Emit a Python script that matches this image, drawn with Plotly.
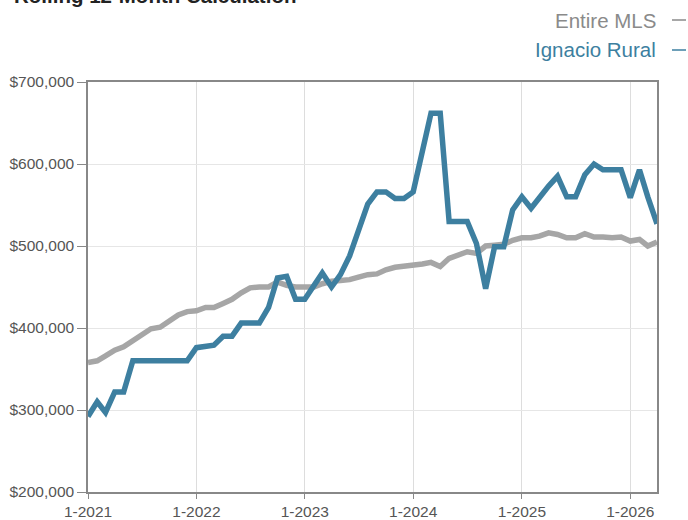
import plotly.graph_objects as go
import pandas as pd

months = pd.date_range("2021-01-01", periods=64, freq="MS")

entire_mls = [358, 360, 366, 373, 377, 384, 392, 399, 401, 409, 416, 420,
              421, 425, 425, 430, 435, 443, 449, 450, 450, 456, 452, 450,
              450, 450, 454, 457, 458, 459, 462, 465, 466, 471, 474, 475,
              477, 478, 480, 475, 485, 489, 493, 491, 500, 501, 502, 507,
              510, 510, 512, 516, 514, 510, 510, 515, 511, 511, 510, 511,
              506, 508, 500, 505]
ignacio_rural = [292, 310, 297, 322, 322, 360, 360, 360, 359, 359, 359, 360,
                 376, 377, 379, 390, 390, 406, 406, 406, 425, 461, 463, 435,
                 435, 452, 467, 450, 465, 488, 519, 551, 566, 566, 558, 558,
                 566, 615, 662, 662, 530, 530, 530, 503, 448, 499, 499, 544,
                 560, 546, 560, 573, 585, 560, 560, 587, 600, 593, 593, 593,
                 559, 593, 560, 527]
entire_mls = [v * 1000 for v in entire_mls]
ignacio_rural = [v * 1000 for v in ignacio_rural]

tick_dates = pd.date_range("2021-01-01", periods=6, freq="12MS")
tick_labels = ["1-2021", "1-2022", "1-2023", "1-2024", "1-2025", "1-2026"]
y_ticks = [200000, 300000, 400000, 500000, 600000, 700000]
y_labels = ["$200,000", "$300,000", "$400,000", "$500,000", "$600,000", "$700,000"]

GRAY = "#a6a6a6"
BLUE = "#3d7fa0"
PW, PH = 569, 410  # plot area size in px

fig = go.Figure()
fig.add_trace(go.Scatter(x=months, y=entire_mls, mode="lines", name="Entire MLS",
                         line=dict(color=GRAY, width=5.5), showlegend=False))
fig.add_trace(go.Scatter(x=months, y=ignacio_rural, mode="lines", name="Ignacio Rural",
                         line=dict(color=BLUE, width=5.5), showlegend=False))

fig.update_layout(
    width=688, height=520,
    margin=dict(l=88, r=31, t=82, b=28, autoexpand=False),
    plot_bgcolor="white", paper_bgcolor="white",
    font=dict(family="Liberation Sans, Arial, sans-serif", color="#555555", size=15),
)
fig.update_xaxes(
    range=[months[0], months[-1]],
    tickvals=list(tick_dates), ticktext=tick_labels,
    showgrid=True, gridcolor="#dddddd", gridwidth=1,
    showline=True, linecolor="#888888", linewidth=1.5, mirror=True,
    ticks="outside", ticklen=5, tickcolor="#888888",
    tickfont=dict(size=15.5, color="#555555"),
    zeroline=False, automargin=False,
)
fig.update_yaxes(
    range=[200000, 700000],
    tickvals=y_ticks, ticktext=y_labels,
    showgrid=True, gridcolor="#e6e6e6", gridwidth=1,
    showline=True, linecolor="#888888", linewidth=1.5, mirror=True,
    ticks="outside", ticklen=9, tickcolor="#888888",
    tickfont=dict(size=15.5, color="#555555"),
    zeroline=False, automargin=False,
)

fig.add_annotation(text="<b>Rolling 12-Month Calculation</b>", xref="paper", yref="paper",
                   x=-76/PW, y=1 + 73/PH, xanchor="left", yanchor="bottom",
                   showarrow=False, font=dict(size=20.5, color="#222222"))

legend_items = [("Entire MLS", "#8a8a8a", 20), ("Ignacio Rural", BLUE, 50)]
for label, color, ypx in legend_items:
    yp = 1 + (82 - ypx) / PH
    fig.add_annotation(text=label, xref="paper", yref="paper",
                       x=1 + 1/PW, y=yp, xanchor="right", yanchor="middle",
                       showarrow=False, font=dict(size=20.5, color=color))
    fig.add_shape(type="line", xref="paper", yref="paper",
                  x0=1 + 15/PW, x1=1 + 29/PW, y0=yp, y1=yp,
                  line=dict(color=color, width=1.5))

fig.write_html("out.html", config={"displayModeBar": False},
               post_script="document.body.style.margin='0';document.body.style.padding='0';")
